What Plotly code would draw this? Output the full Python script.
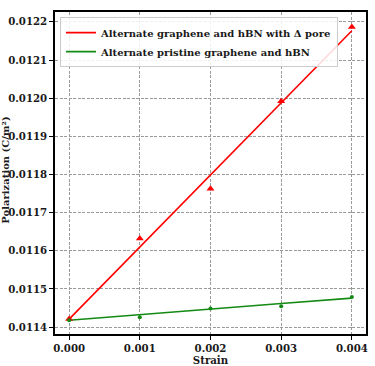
import plotly.graph_objects as go

strain = [0.000, 0.001, 0.002, 0.003, 0.004]
pore_points = [0.011421, 0.011632, 0.011763, 0.011992, 0.012187]
pore_fit = [0.011421, 0.011610, 0.011799, 0.011988, 0.012177]
pristine_points = [0.011418, 0.011426, 0.011449, 0.011455, 0.011479]
pristine_fit = [0.011418, 0.011433, 0.011447, 0.011462, 0.011476]

x_ticks = [0.000, 0.001, 0.002, 0.003, 0.004]
x_tick_labels = ["0.000", "0.001", "0.002", "0.003", "0.004"]
y_ticks = [0.0114, 0.0115, 0.0116, 0.0117, 0.0118, 0.0119, 0.0120, 0.0121, 0.0122]
y_tick_labels = ["0.0114", "0.0115", "0.0116", "0.0117", "0.0118", "0.0119", "0.0120", "0.0121", "0.0122"]

RED = "#ff0000"
GREEN = "#138a13"
FONT = "DejaVu Serif"
TXT = "#1a1a1a"

fig = go.Figure()
fig.add_trace(go.Scatter(x=strain, y=pore_fit, mode="lines", line=dict(color=RED, width=1.6),
                         name="Alternate graphene and hBN with Δ pore"))
fig.add_trace(go.Scatter(x=strain, y=pristine_fit, mode="lines", line=dict(color=GREEN, width=1.6),
                         name="Alternate pristine graphene and hBN"))
fig.add_trace(go.Scatter(x=strain, y=pore_points, mode="markers",
                         marker=dict(symbol="triangle-up", color=RED, size=7), showlegend=False))
fig.add_trace(go.Scatter(x=strain, y=pristine_points, mode="markers",
                         marker=dict(symbol="circle", color=GREEN, size=4), showlegend=False))

axis_common = dict(
    showline=True, linecolor="black", linewidth=1.5, mirror=True,
    ticks="outside", ticklen=4, tickwidth=1, tickcolor="black",
    showgrid=True, gridcolor="#9a9a9a", griddash="3px,1.5px", gridwidth=0.9,
    zeroline=False, automargin=False,
    tickfont=dict(family=FONT, size=10.2, color=TXT, weight="bold"),
)

fig.update_xaxes(range=[-0.0002, 0.0042], tickvals=x_ticks, ticktext=x_tick_labels,
                 title=dict(text="Strain", font=dict(family=FONT, size=10.2, color=TXT, weight="bold"), standoff=4),
                 **axis_common)
fig.update_yaxes(range=[0.011382, 0.012226], tickvals=y_ticks, ticktext=y_tick_labels,
                 **axis_common)

fig.add_annotation(text="Polarization (C/m²)", xref="paper", yref="paper",
                   x=-0.158, y=0.51, xanchor="center", yanchor="middle", textangle=-90,
                   showarrow=False, font=dict(family=FONT, size=10, color=TXT, weight="bold"))

fig.update_layout(
    width=375, height=366,
    margin=dict(l=55, r=9, t=12, b=32),
    plot_bgcolor="white", paper_bgcolor="white",
    legend=dict(x=0.016, y=0.984, xanchor="left", yanchor="top",
                bgcolor="rgba(255,255,255,0.85)", bordercolor="#cccccc", borderwidth=1,
                font=dict(family=FONT, size=10, color=TXT, weight="bold"),
                tracegroupgap=0, itemwidth=30),
)

fig.write_html("out.html", config={"displayModeBar": False},
               post_script="document.body.style.margin='0px';")
